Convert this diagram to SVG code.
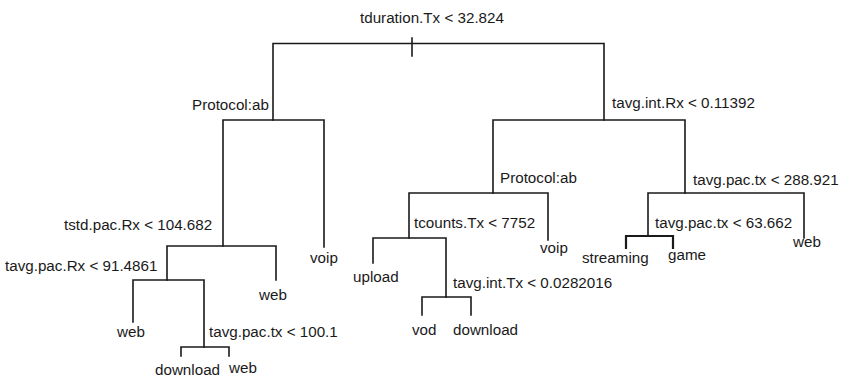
<svg xmlns="http://www.w3.org/2000/svg" width="841" height="378" viewBox="0 0 841 378">
<style>
.e{fill:none;stroke:#1a1a1a;stroke-width:1.6;stroke-linecap:square}
text{font-family:"Liberation Sans",Arial,sans-serif;font-size:15.2px;fill:#1a1a1a}
</style>
<rect width="841" height="378" fill="#fff"/>
<g id="connectors">
<path class="e" d="M273,120V43.5H604V120"/>
<path class="e" d="M412,38V56"/>
<path class="e" d="M223,246V120H324V247"/>
<path class="e" d="M167,280V246H276V280"/>
<path class="e" d="M133,322V280H204V347"/>
<path class="e" d="M181,356V347H229V356"/>
<path class="e" d="M409,238V193H548V240"/>
<path class="e" d="M493,193V120H685V193"/>
<path class="e" d="M373,263V238H446V297"/>
<path class="e" d="M422,315V297H471V315"/>
<path class="e" d="M648,236V193H804V238"/>
<path class="e" d="M626,248V236H673V248" style="stroke-width:2.2"/>
</g>
<g id="n_root"><text x="360" y="23">tduration.Tx &lt; 32.824</text></g>
<g id="n_protocol_l"><text x="192" y="110">Protocol:ab</text></g>
<g id="n_tavg_int_rx"><text x="612" y="108">tavg.int.Rx &lt; 0.11392</text></g>
<g id="n_tstd"><text x="64" y="230">tstd.pac.Rx &lt; 104.682</text></g>
<g id="n_voip_l"><text x="310" y="263">voip</text></g>
<g id="n_tavg_pac_rx"><text x="5" y="271">tavg.pac.Rx &lt; 91.4861</text></g>
<g id="n_web_a"><text x="259" y="300">web</text></g>
<g id="n_web_b"><text x="117" y="337">web</text></g>
<g id="n_tavg_pac_tx100"><text x="209" y="337">tavg.pac.tx &lt; 100.1</text></g>
<g id="n_download_l"><text x="155" y="375">download</text></g>
<g id="n_web_c"><text x="229" y="373">web</text></g>
<g id="n_protocol_r"><text x="500" y="183">Protocol:ab</text></g>
<g id="n_tcounts"><text x="414" y="228">tcounts.Tx &lt; 7752</text></g>
<g id="n_voip_r"><text x="540" y="253">voip</text></g>
<g id="n_upload"><text x="353" y="282">upload</text></g>
<g id="n_tavg_int_tx"><text x="453" y="288">tavg.int.Tx &lt; 0.0282016</text></g>
<g id="n_vod"><text x="412" y="335">vod</text></g>
<g id="n_download_r"><text x="453" y="335">download</text></g>
<g id="n_tavg_pac_tx288"><text x="693" y="185">tavg.pac.tx &lt; 288.921</text></g>
<g id="n_tavg_pac_tx63"><text x="655" y="228">tavg.pac.tx &lt; 63.662</text></g>
<g id="n_web_d"><text x="793" y="247">web</text></g>
<g id="n_streaming"><text x="582" y="263">streaming</text></g>
<g id="n_game"><text x="668" y="260">game</text></g>
</svg>
